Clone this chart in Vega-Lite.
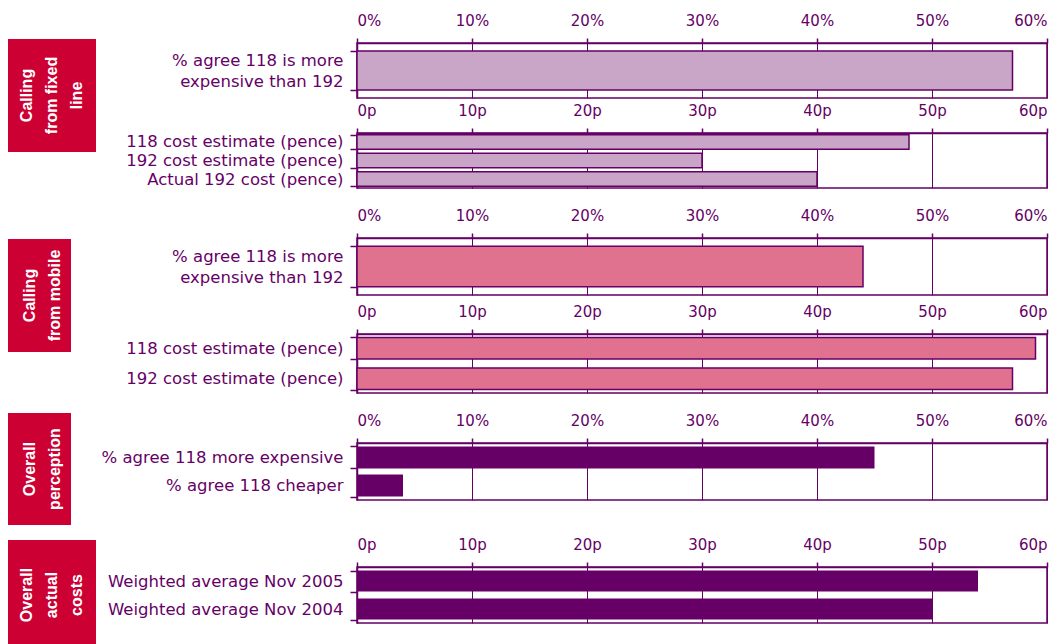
{
  "$schema": "https://vega.github.io/schema/vega-lite/v6.json",
  "padding": {"left": 8, "top": 0, "right": 0, "bottom": 0},
  "background": "white",
  "datasets": {
    "p1": [{"item": "% agree 118 is more|expensive than 192", "value": 57}],
    "p2": [
      {"item": "118 cost estimate (pence)", "value": 48},
      {"item": "192 cost estimate (pence)", "value": 30},
      {"item": "Actual 192 cost (pence)", "value": 40}
    ],
    "p3": [{"item": "% agree 118 is more|expensive than 192", "value": 44}],
    "p4": [
      {"item": "118 cost estimate (pence)", "value": 59},
      {"item": "192 cost estimate (pence)", "value": 57}
    ],
    "p5": [
      {"item": "% agree 118 more expensive", "value": 45},
      {"item": "% agree 118 cheaper", "value": 4}
    ],
    "p6": [
      {"item": "Weighted average Nov 2005", "value": 54},
      {"item": "Weighted average Nov 2004", "value": 50}
    ],
    "b1": [{"section": ["Calling", "from fixed", "line"]}],
    "b2": [{"section": ["Calling", "from mobile"]}],
    "b3": [{"section": ["Overall", "perception"]}],
    "b4": [{"section": ["Overall", "actual", "costs"]}]
  },
  "hconcat": [
    {
      "spacing": 0,
      "vconcat": [
        {
          "width": 1, "height": 37,
          "view": {"stroke": null},
          "data": {"values": [{}]},
          "mark": {"type": "text"},
          "encoding": {"text": {"value": ""}}
        },
        {
          "spacing": 87,
          "vconcat": [
            {
              "width": 88, "height": 113,
              "view": {"fill": "#CC0033", "stroke": null},
              "data": {"name": "b1"},
              "mark": {"type": "text", "angle": 270, "dy": -25, "color": "#FFFFFF", "font": "Liberation Sans", "fontWeight": "bold", "fontSize": 16, "lineHeight": 25, "align": "center", "baseline": "middle"},
              "encoding": {"text": {"field": "section", "type": "nominal"}}
            },
            {
              "spacing": 61,
              "vconcat": [
                {
                  "width": 63, "height": 113,
                  "view": {"fill": "#CC0033", "stroke": null},
                  "data": {"name": "b2"},
                  "mark": {"type": "text", "angle": 270, "dy": -10, "color": "#FFFFFF", "font": "Liberation Sans", "fontWeight": "bold", "fontSize": 16, "lineHeight": 25, "align": "center", "baseline": "middle"},
                  "encoding": {"text": {"field": "section", "type": "nominal"}}
                },
                {
                  "spacing": 15,
                  "vconcat": [
                    {
                      "width": 63, "height": 112,
                      "view": {"fill": "#CC0033", "stroke": null},
                      "data": {"name": "b3"},
                      "mark": {"type": "text", "angle": 270, "dy": -10, "color": "#FFFFFF", "font": "Liberation Sans", "fontWeight": "bold", "fontSize": 16, "lineHeight": 25, "align": "center", "baseline": "middle"},
                      "encoding": {"text": {"field": "section", "type": "nominal"}}
                    },
                    {
                      "width": 88, "height": 110,
                      "view": {"fill": "#CC0033", "stroke": null},
                      "data": {"name": "b4"},
                      "mark": {"type": "text", "angle": 270, "dy": -25, "color": "#FFFFFF", "font": "Liberation Sans", "fontWeight": "bold", "fontSize": 16, "lineHeight": 25, "align": "center", "baseline": "middle"},
                      "encoding": {"text": {"field": "section", "type": "nominal"}}
                    }
                  ]
                }
              ]
            }
          ]
        }
      ]
    },
    {
      "spacing": 0,
      "vconcat": [
        {
          "width": 1, "height": 9,
          "view": {"stroke": null},
          "data": {"values": [{}]},
          "mark": {"type": "text"},
          "encoding": {"text": {"value": ""}}
        },
        {
          "spacing": 18,
          "vconcat": [
            {
              "spacing": 3,
              "vconcat": [
                {
                  "width": 690, "height": 55,
                  "data": {"name": "p1"},
                  "mark": {"type": "bar", "fill": "#C9A5C8", "stroke": "#660066", "strokeWidth": 1.5},
                  "encoding": {
                    "y": {"field": "item", "type": "nominal", "sort": null, "scale": {"paddingInner": 0.17, "paddingOuter": 0.17}, "axis": {"title": null, "labelExpr": "datum.label ? split(datum.label, '|') : ''", "labelOffset": -10.5, "minExtent": 260, "tickBand": "extent"}},
                    "x": {"field": "value", "type": "quantitative", "scale": {"domain": [0, 60], "nice": false}, "axis": {"orient": "top", "title": null, "values": [0, 10, 20, 30, 40, 50, 60], "labelExpr": "datum.value + '%'", "minExtent": 30}}
                  }
                },
                {
                  "width": 690, "height": 55,
                  "data": {"name": "p2"},
                  "mark": {"type": "bar", "fill": "#C9A5C8", "stroke": "#660066", "strokeWidth": 1.5},
                  "encoding": {
                    "y": {"field": "item", "type": "nominal", "sort": null, "scale": {"paddingInner": 0.22, "paddingOuter": 0.09}, "axis": {"title": null, "minExtent": 260, "tickBand": "extent"}},
                    "x": {"field": "value", "type": "quantitative", "scale": {"domain": [0, 60], "nice": false}, "axis": {"orient": "top", "title": null, "values": [0, 10, 20, 30, 40, 50, 60], "labelExpr": "datum.value + 'p'", "minExtent": 30}}
                  }
                }
              ]
            },
            {
              "spacing": 18,
              "vconcat": [
                {
                  "spacing": 7,
                  "vconcat": [
                    {
                      "width": 690, "height": 57,
                      "data": {"name": "p3"},
                      "mark": {"type": "bar", "fill": "#E1728F", "stroke": "#660066", "strokeWidth": 1.5},
                      "encoding": {
                        "y": {"field": "item", "type": "nominal", "sort": null, "scale": {"paddingInner": 0.17, "paddingOuter": 0.17}, "axis": {"title": null, "labelExpr": "datum.label ? split(datum.label, '|') : ''", "labelOffset": -10.5, "minExtent": 260, "tickBand": "extent"}},
                        "x": {"field": "value", "type": "quantitative", "scale": {"domain": [0, 60], "nice": false}, "axis": {"orient": "top", "title": null, "values": [0, 10, 20, 30, 40, 50, 60], "labelExpr": "datum.value + '%'", "minExtent": 30}}
                      }
                    },
                    {
                      "width": 690, "height": 59,
                      "data": {"name": "p4"},
                      "mark": {"type": "bar", "fill": "#E1728F", "stroke": "#660066", "strokeWidth": 1.5},
                      "encoding": {
                        "y": {"field": "item", "type": "nominal", "sort": null, "scale": {"paddingInner": 0.29, "paddingOuter": 0.115}, "axis": {"title": null, "minExtent": 260, "tickBand": "extent"}},
                        "x": {"field": "value", "type": "quantitative", "scale": {"domain": [0, 60], "nice": false}, "axis": {"orient": "top", "title": null, "values": [0, 10, 20, 30, 40, 50, 60], "labelExpr": "datum.value + 'p'", "minExtent": 30}}
                      }
                    }
                  ]
                },
                {
                  "spacing": 35,
                  "vconcat": [
                    {
                      "width": 690, "height": 57,
                      "data": {"name": "p5"},
                      "mark": {"type": "bar", "fill": "#660066"},
                      "encoding": {
                        "y": {"field": "item", "type": "nominal", "sort": null, "scale": {"paddingInner": 0.22, "paddingOuter": 0.12}, "axis": {"title": null, "minExtent": 260, "tickBand": "extent"}},
                        "x": {"field": "value", "type": "quantitative", "scale": {"domain": [0, 60], "nice": false}, "axis": {"orient": "top", "title": null, "values": [0, 10, 20, 30, 40, 50, 60], "labelExpr": "datum.value + '%'", "minExtent": 30}}
                      }
                    },
                    {
                      "width": 690, "height": 56,
                      "data": {"name": "p6"},
                      "mark": {"type": "bar", "fill": "#660066"},
                      "encoding": {
                        "y": {"field": "item", "type": "nominal", "sort": null, "scale": {"paddingInner": 0.25, "paddingOuter": 0.125}, "axis": {"title": null, "minExtent": 260, "tickBand": "extent"}},
                        "x": {"field": "value", "type": "quantitative", "scale": {"domain": [0, 60], "nice": false}, "axis": {"orient": "top", "title": null, "values": [0, 10, 20, 30, 40, 50, 60], "labelExpr": "datum.value + 'p'", "minExtent": 30}}
                      }
                    }
                  ]
                }
              ]
            }
          ]
        }
      ]
    }
  ],
  "spacing": 0,
  "config": {
    "font": "DejaVu Sans",
    "view": {"stroke": "#660066", "strokeWidth": 1.5},
    "axis": {
      "domainColor": "#660066", "domainWidth": 1.5,
      "tickColor": "#660066", "tickWidth": 1.5,
      "gridColor": "#660066", "gridOpacity": 1, "gridWidth": 1,
      "labelColor": "#660066", "labelFont": "DejaVu Sans"
    },
    "axisX": {"labelFontSize": 15, "tickSize": 5, "labelPadding": 10, "grid": true},
    "axisY": {"labelFontSize": 16.5, "tickSize": 7, "labelPadding": 7, "grid": false, "labelLimit": 300, "labelLineHeight": 21}
  }
}
